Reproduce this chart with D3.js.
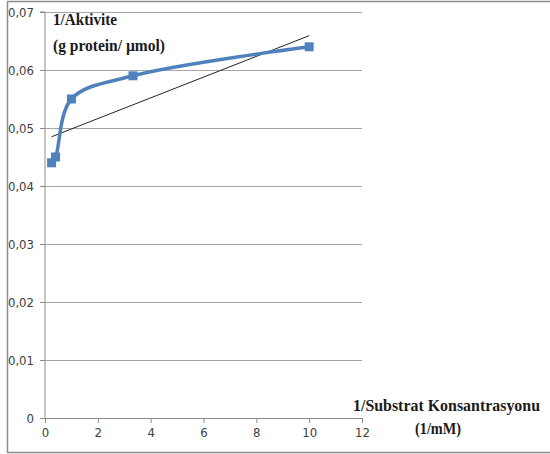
<!DOCTYPE html>
<html><head><meta charset="utf-8">
<script src="https://cdn.jsdelivr.net/npm/d3@7"></script>
<style>body{margin:0;background:#fff}svg{display:block}</style>
</head><body>
<svg id="c" width="550" height="454"></svg>
<script>
const xValues = [0.25, 0.4, 1, 3.33, 10];
const yValues = [0.044, 0.045, 0.055, 0.059, 0.064];
const xTicks = [0, 2, 4, 6, 8, 10, 12];
const yTicks = [0, 0.01, 0.02, 0.03, 0.04, 0.05, 0.06, 0.07];
const yTitle = ["1/Aktivite", "(g protein/ µmol)"];
const xTitle = ["1/Substrat Konsantrasyonu", "(1/mM)"];

const svg = d3.select("#c");
const x = d3.scaleLinear().domain([0, 12]).range([45, 362]);
const y = d3.scaleLinear().domain([0, 0.07]).range([418, 12]);

// outer border
svg.append("rect").attr("x", 7.5).attr("y", 1.5).attr("width", 560).attr("height", 451)
  .attr("fill", "none").attr("stroke", "#8c8c8c").attr("stroke-width", 1.5);

// gridlines
svg.append("g").selectAll("line").data(yTicks.filter(d => d > 0)).join("line")
  .attr("x1", x(0)).attr("x2", x(12))
  .attr("y1", d => Math.round(y(d)) + 0.5).attr("y2", d => Math.round(y(d)) + 0.5)
  .attr("stroke", "#a6a6a6").attr("stroke-width", 1);

const fmt = d => d === 0 ? "0" : d3.format(".2f")(d).replace(".", ",");
const yAxis = svg.append("g").attr("transform", `translate(${x(0)},0)`)
  .call(d3.axisLeft(y).tickValues(yTicks).tickFormat(fmt).tickSize(5).tickPadding(6));
const xAxis = svg.append("g").attr("transform", `translate(0,${y(0)})`)
  .call(d3.axisBottom(x).tickValues(xTicks).tickSize(5).tickPadding(5));
[yAxis, xAxis].forEach(g => {
  g.selectAll("path,line").attr("stroke", "#8c8c8c");
  g.selectAll("text").attr("fill", "#404040").style("font-family", "'DejaVu Sans Condensed','Liberation Sans Narrow',sans-serif").style("font-size", "13px");
});
yAxis.select(".domain").attr("d", `M-5,${y(0.07)}H0V${y(0)}`);

// trendline (linear regression of the data)
const n = xValues.length;
const mx = d3.mean(xValues), my = d3.mean(yValues);
let sxy = 0, sxx = 0;
for (let i = 0; i < n; i++) { sxy += (xValues[i]-mx)*(yValues[i]-my); sxx += (xValues[i]-mx)**2; }
const slope = sxy / sxx, icpt = my - slope * mx;
const x0 = d3.min(xValues), x1 = d3.max(xValues);
svg.append("line").attr("x1", x(x0)).attr("y1", y(icpt + slope*x0))
  .attr("x2", x(x1)).attr("y2", y(icpt + slope*x1))
  .attr("stroke", "#222").attr("stroke-width", 1);

// smoothed series
const pts = xValues.map((v, i) => [v, yValues[i]]);
svg.append("path").datum(pts)
  .attr("d", d3.line().x(d => x(d[0])).y(d => y(d[1])).curve(d3.curveCatmullRom.alpha(0.5)))
  .attr("fill", "none").attr("stroke", "#4f81bd").attr("stroke-width", 3.5);
svg.append("g").selectAll("rect").data(pts).join("rect")
  .attr("x", d => x(d[0]) - 4.5).attr("y", d => y(d[1]) - 4.5)
  .attr("width", 9).attr("height", 9).attr("fill", "#4f81bd");

// titles
const serif = "'Liberation Serif','Times New Roman',serif";
svg.append("text").attr("x", 53).attr("y", 25).text(yTitle[0])
  .style("font-family", serif).style("font-weight", "bold").style("font-size", "17px").attr("fill", "#1a1a1a")
  .attr("textLength", 64).attr("lengthAdjust", "spacingAndGlyphs");
svg.append("text").attr("x", 53).attr("y", 51).text(yTitle[1])
  .style("font-family", serif).style("font-weight", "bold").style("font-size", "17px").attr("fill", "#1a1a1a")
  .attr("textLength", 112).attr("lengthAdjust", "spacingAndGlyphs");
svg.append("text").attr("x", 353).attr("y", 411).text(xTitle[0])
  .style("font-family", serif).style("font-weight", "bold").style("font-size", "16px").attr("fill", "#1a1a1a")
  .attr("textLength", 187).attr("lengthAdjust", "spacingAndGlyphs");
svg.append("text").attr("x", 438).attr("y", 434).attr("text-anchor", "middle").text(xTitle[1])
  .style("font-family", serif).style("font-weight", "bold").style("font-size", "16px").attr("fill", "#1a1a1a")
  .attr("textLength", 46).attr("lengthAdjust", "spacingAndGlyphs");
</script>
</body></html>
